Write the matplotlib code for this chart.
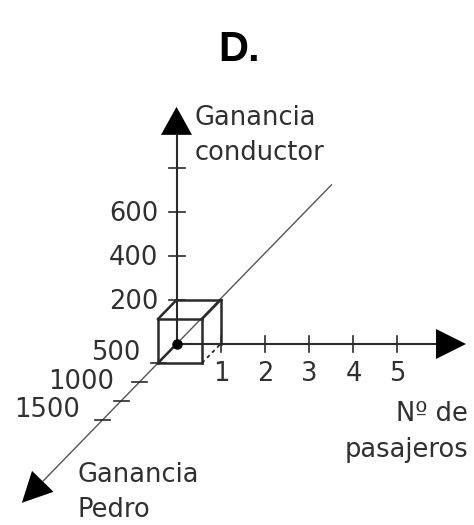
import numpy as np
import matplotlib.pyplot as plt
from matplotlib.patches import Polygon

# Datos del grafico
pasajeros_ticks = [1, 2, 3, 4, 5]
conductor_ticks = [200, 400, 600, 800]
conductor_labels = ['200', '400', '600', '']
pedro_ticks = [500, 1000, 1500, 2000]
pedro_labels = ['500', '1000', '1500', '']
punto = (1, 200, 500)  # (pasajeros, ganancia conductor, ganancia Pedro)

# Proyeccion oblicua: 1 pasajero = 44 px, 200 = 44 px, 500 (Pedro) = (-18.5, -19) px
PX = 44.0
kx = -18.5 / PX / 500
ky = -19.0 / PX / 500


def proj(p, c, d):
    return p + d * kx, c / 200 + d * ky


fig = plt.figure(figsize=(4.74, 5.25), dpi=100)
ax = fig.add_axes([0, 0, 1, 1])
ax.set_xlim(-176.5 / PX, (474 - 176.5) / PX)
ax.set_ylim(-181 / PX, 344 / PX)
ax.axis('off')

fs = 18.5
dark = '#2a2a2a'
txt = '#303030'


def arrow(p0, p1, lw, color, head_len=30, head_w=30):
    x0, y0 = proj(*p0)
    x1, y1 = proj(*p1)
    v = np.array([x1 - x0, y1 - y0])
    u = v / np.hypot(*v)
    n = np.array([-u[1], u[0]])
    tip = np.array([x1, y1])
    base = tip - u * head_len / PX
    ax.plot([x0, base[0]], [y0, base[1]], color=color, lw=lw, solid_capstyle='butt')
    tri = [tip, base + n * head_w / 2 / PX, base - n * head_w / 2 / PX]
    ax.add_patch(Polygon(tri, closed=True, color='black', lw=0))


# ejes
arrow((0, 0, -4200), (0, 0, 4180), 1.0, '#555555')
arrow((0, 0, 0), (6.58, 0, 0), 1.5, dark)
arrow((0, 0, 0), (0, 1078, 0), 1.5, dark, head_len=28, head_w=31)

# marcas
tl = 8 / PX
for p in pasajeros_ticks:
    x, y = proj(p, 0, 0)
    ax.plot([x, x], [y - tl, y + tl], color=dark, lw=1.2)
    ax.annotate(str(p), (x, y), xytext=(1, -30), textcoords='offset pixels',
                ha='center', va='center', fontsize=fs, color=txt)

for c, lab in zip(conductor_ticks, conductor_labels):
    x, y = proj(0, c, 0)
    ax.plot([x - tl, x + tl], [y, y], color=dark, lw=1.2)
    if lab:
        ax.annotate(lab, (x, y), xytext=(-18, -2), textcoords='offset pixels',
                    ha='right', va='center', fontsize=fs, color=txt)

pedro_offsets = [(-18, 10), (-25, 0), (-41, -9), (0, 0)]
for d, lab, off in zip(pedro_ticks, pedro_labels, pedro_offsets):
    x, y = proj(0, 0, d)
    ax.plot([x - 7.5 / PX, x + 7.5 / PX], [y, y], color=dark, lw=1.2)
    if lab:
        ax.annotate(lab, (x, y), xytext=off, textcoords='offset pixels',
                    ha='right', va='center', fontsize=fs, color=txt)

# cubo
P, C, D = punto
aristas = [
    ((0, 0, D), (P, 0, D)), ((0, C, D), (P, C, D)),
    ((0, 0, D), (0, C, D)), ((P, 0, D), (P, C, D)),
    ((0, C, 0), (P, C, 0)), ((P, 0, 0), (P, C, 0)),
    ((0, 0, 0), (0, 0, D)), ((0, C, 0), (0, C, D)),
    ((P, C, 0), (P, C, D)),
]
for a, b in aristas:
    xa, ya = proj(*a)
    xb, yb = proj(*b)
    ax.plot([xa, xb], [ya, yb], color=dark, lw=1.8)
xa, ya = proj(P, 0, D)
xb, yb = proj(P, 0, 0)
ax.plot([xa, xb], [ya, yb], color=dark, lw=1.3, ls=(0, (2, 2)))

x0, y0 = proj(0, 0, 0)
ax.plot([x0], [y0], 'o', color='black', ms=6.5)

# nombres de ejes
ax.annotate('Ganancia\nconductor', proj(0, 1078, 0), xytext=(18, -29),
            textcoords='offset pixels', ha='left', va='center',
            fontsize=fs, color=txt, linespacing=1.45)
ax.annotate('Nº de\npasajeros', proj(6.58, 0, 0), xytext=(2, -88),
            textcoords='offset pixels', ha='right', va='center',
            multialignment='right', fontsize=fs, color=txt, linespacing=1.5)
ax.annotate('Ganancia\nPedro', proj(0, 0, 4180), xytext=(56, 10),
            textcoords='offset pixels', ha='left', va='center',
            fontsize=fs, color=txt, linespacing=1.45)

fig.text(239 / 474, 1 - 50 / 525, 'D.', ha='center', va='center',
         fontsize=30, fontweight='bold', family='Liberation Sans')

fig.savefig('out.png', dpi=100)
